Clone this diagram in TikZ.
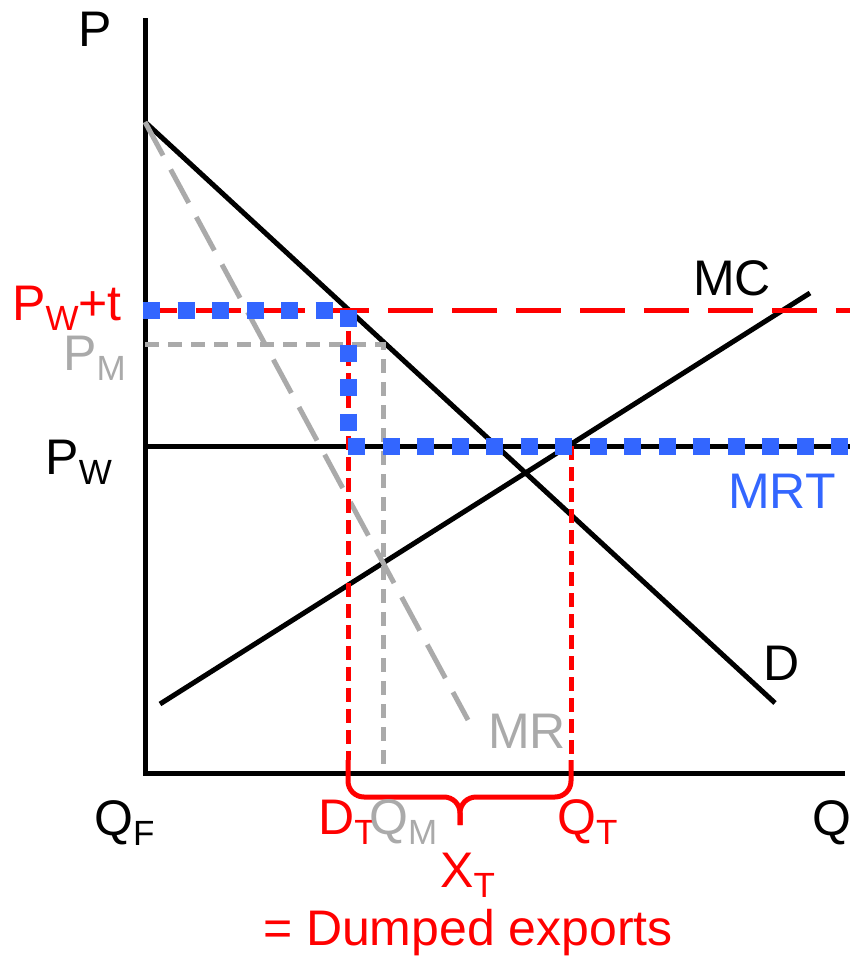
\documentclass[tikz,border=0pt]{standalone}
\usepackage{fontspec}
\setmainfont{Liberation Sans}
\definecolor{myblue}{RGB}{51,102,255}
\definecolor{mygray}{RGB}{170,170,170}
\newcommand\sbx[1]{\raisebox{-10pt}{\fontsize{35}{35}\selectfont #1}}
\begin{document}
\begin{tikzpicture}[x=1pt,y=-1pt,
  blk/.style={line width=5pt,black},
  lbl/.style={font=\fontsize{50}{60}\selectfont,inner sep=0pt},
  reddash/.style={red,line width=5pt,dash pattern=on 45pt off 19pt,dash phase=13pt},
  redshort/.style={red,line width=5pt,dash pattern=on 14pt off 7pt},
  graydash/.style={mygray,line width=5pt,dash pattern=on 14pt off 9pt},
  graylong/.style={mygray,line width=5pt,dash pattern=on 38pt off 16pt},
  bluesq/.style={myblue,line width=17pt,dash pattern=on 17pt off 17.5pt}]
\useasboundingbox (0,0) rectangle (850,956);
% coordinates
\coordinate (ytop) at (145,18);
\coordinate (orig) at (145,773);
\coordinate (xend) at (845,773);
\coordinate (dA) at (145,122);
\coordinate (dB) at (775,703);
\coordinate (mrB) at (468,720);
\coordinate (mcA) at (160,704);
\coordinate (mcB) at (810,293);
\coordinate (pwL) at (145,446);
\coordinate (pwR) at (850,446);
\coordinate (ptL) at (145,310);
\coordinate (ptR) at (850,310);
\coordinate (pmL) at (145,344);
\coordinate (pmC) at (383,344);
\coordinate (pmB) at (383,773);
\coordinate (dtT) at (348,310);
\coordinate (dtM) at (348,446);
\coordinate (dtB) at (348,760);
\coordinate (qtT) at (571,446);
\coordinate (qtB) at (571,760);
\coordinate (brL) at (348,797);
\coordinate (brR) at (571,797);
\coordinate (brM) at (460,797);
\coordinate (brTip) at (460,825);
% axes and black curves
\draw[blk] (ytop) -- (orig) -- (xend);
\draw[blk] (pwL) -- (pwR);
\draw[blk] (dA) -- (dB);
\draw[blk] (mcA) -- (mcB);
% gray
\draw[graylong] (dA) -- (mrB);
\draw[graydash] (pmL) -- (pmC) -- (pmB);
% red
\draw[reddash] (ptL) -- (ptR);
\draw[redshort] (dtT) -- (dtB);
\draw[redshort] (qtT) -- (qtB);
\draw[red,line width=5pt,rounded corners=16pt] (dtB) -- (brL) -- (brM) -- (brTip);
\draw[red,line width=5pt,rounded corners=16pt] (qtB) -- (brR) -- (brM) -- (brTip);
% blue MRT
\draw[bluesq] (143,310) -- (340,310);
\draw[bluesq] (dtT) -- (dtM);
\draw[bluesq] (dtM) -- (pwR);
% labels
\node[lbl,anchor=base west] (lP) at (78,46) {P};
\node[lbl,anchor=base east,red] (lPt) at (122,320) {P\sbx{W}+t};
\node[lbl,anchor=base east,mygray] (lPM) at (126,370) {P\sbx{M}};
\node[lbl,anchor=base east] (lPW) at (112,474) {P\sbx{W}};
\node[lbl,anchor=base west] (lMC) at (693,295) {MC};
\node[lbl,anchor=base west,myblue] (lMRT) at (728,508) {MRT};
\node[lbl,anchor=base west] (lD) at (763,680) {D};
\node[lbl,anchor=base west,mygray] (lMR) at (488,748) {MR};
\node[lbl,anchor=base west] (lQF) at (94,835) {Q\sbx{F}};
\node[lbl,anchor=base west,red] (lDT) at (318,834) {D\sbx{T}};
\node[lbl,anchor=base west,mygray] (lQM) at (369,834) {Q\sbx{M}};
\node[lbl,anchor=base west,red] (lQT) at (557,834) {Q\sbx{T}};
\node[lbl,anchor=base west] (lQ) at (812,835) {Q};
\node[lbl,anchor=base west,red] (lXT) at (440,887) {X\sbx{T}};
\node[lbl,anchor=base,red] (lDE) at (468,945) {= Dumped exports};
\end{tikzpicture}
\end{document}
